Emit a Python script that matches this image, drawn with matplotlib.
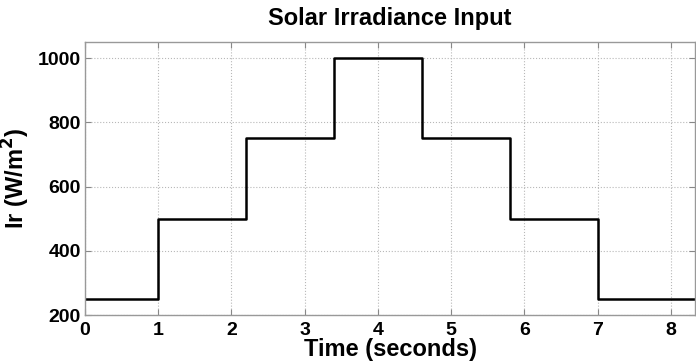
import matplotlib
matplotlib.use("Agg")
import matplotlib.pyplot as plt

# Irradiance step profile: change times (s) and levels (W/m^2)
step_times = [0, 1, 2.2, 3.4, 4.6, 5.8, 7, 8.33]
irradiance = [250, 500, 750, 1000, 750, 500, 250, 250]
x_ticks = [0, 1, 2, 3, 4, 5, 6, 7, 8]
y_ticks = [200, 400, 600, 800, 1000]

plt.rcParams['font.family'] = ['Liberation Sans', 'DejaVu Sans']
plt.rcParams['font.weight'] = 'bold'

fig = plt.figure(figsize=(6.96, 3.62), dpi=100)
ax = fig.add_axes([0.1221, 0.1298, 0.8765, 0.7542])

ax.step(step_times, irradiance, where='post', color='black', lw=1.8)

ax.set_xlim(0, 8.33)
ax.set_ylim(200, 1050)
ax.set_xticks(x_ticks)
ax.set_yticks(y_ticks)
ax.grid(True, linestyle=':', color='#b8b8b8', linewidth=0.8)
ax.tick_params(direction='in', top=True, right=True, length=4, color='#888888',
               labelsize=14)
ax.tick_params(axis='x', pad=5)
ax.tick_params(axis='y', pad=3)
for lbl in ax.get_xticklabels() + ax.get_yticklabels():
    lbl.set_fontweight('bold')
for sp in ax.spines.values():
    sp.set_color('#999999')
    sp.set_linewidth(1.0)

ax.set_title('Solar Irradiance Input', fontsize=17, fontweight='bold', pad=12)
ax.set_xlabel('Time (seconds)', fontsize=17, fontweight='bold', labelpad=-1)
ax.set_ylabel(r'Ir (W/m$^\mathbf{2}$)', fontsize=17, fontweight='bold', labelpad=4)

fig.savefig('out.png', dpi=100)
